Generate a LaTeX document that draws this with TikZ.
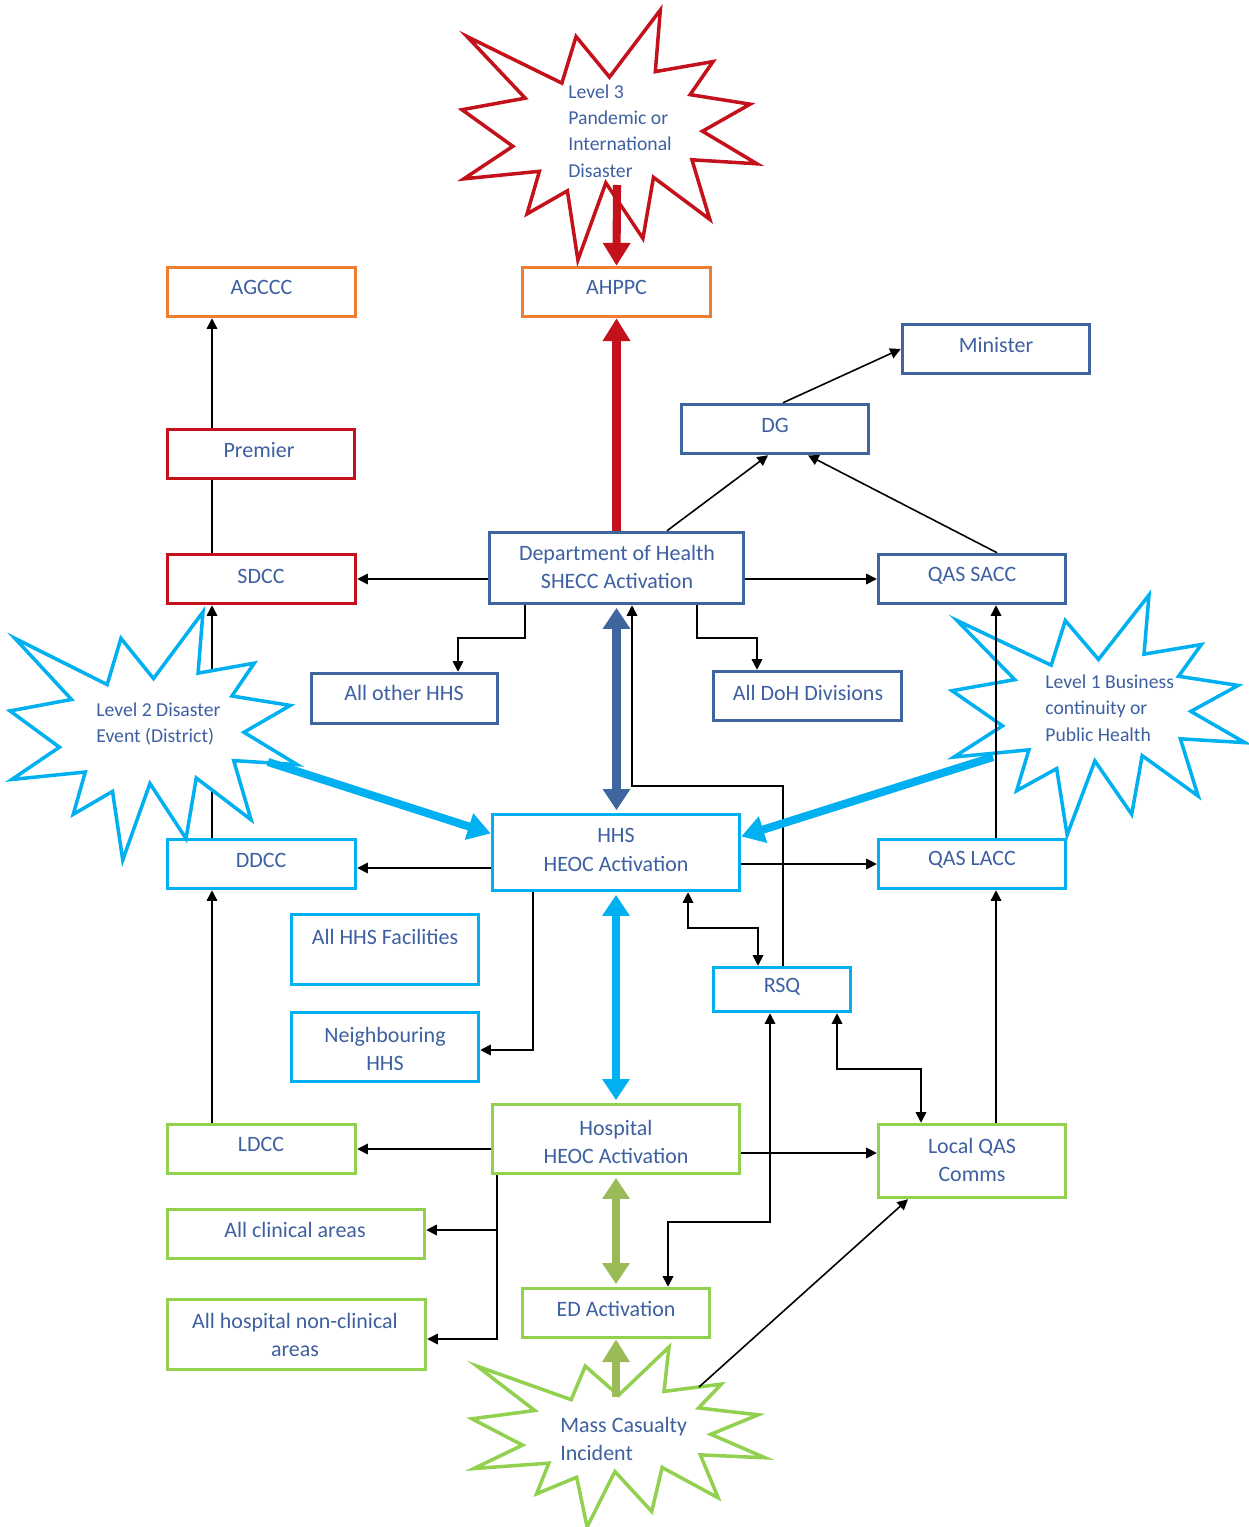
\documentclass[tikz,border=0pt]{standalone}
\usepackage{fontspec}
\setmainfont{Carlito}
\usetikzlibrary{arrows.meta,calc}
\definecolor{dblue}{RGB}{62,101,158}
\definecolor{lblue}{RGB}{0,176,240}
\definecolor{dred}{RGB}{196,18,28}
\definecolor{orng}{RGB}{237,125,49}
\definecolor{lgreen}{RGB}{146,208,80}
\definecolor{olive}{RGB}{155,187,89}
\definecolor{txtblue}{RGB}{62,96,160}
\newcommand\drawseal[5]{%
  \begin{scope}[shift={(#1,#2)}, xscale=#3/216, yscale=#4/216]
    \draw[line width=2pt, draw=#5, fill=white]
      (108,58) -- (145.22,0) -- (141.55,53.25) -- (183.80,44.57) -- (167.02,73.15)
      -- (210.97,81.37) -- (176.07,104.75) -- (216,132.90) -- (168.37,129.42)
      -- (181.45,180.95) -- (140.20,144.57) -- (132.47,197.37) -- (105.32,149.35)
      -- (84.85,216) -- (77.15,156.27) -- (47.62,176.17) -- (56.67,139.37)
      -- (1.35,145.87) -- (37.22,117.75) -- (0,86.15) -- (46.27,76.17)
      -- (3.70,22.95) -- (73.12,63.20) -- (83.52,22.95) -- cycle;
  \end{scope}}
\tikzset{
  box/.style={draw, line width=2pt, fill=white, inner sep=0pt},
  lbl/.style={text=txtblue, font=\fontsize{12.5}{16}\selectfont, align=center, inner sep=0pt},
  stxt/.style={text=txtblue, font=\fontsize{11.2}{15}\selectfont, align=left, inner sep=0pt, anchor=west},
  conn/.style={draw=black, line width=0.9pt, -{Triangle[length=6pt,width=6pt]}},
  biconn/.style={draw=black, line width=0.9pt, {Triangle[length=6pt,width=6pt]}-{Triangle[length=6pt,width=6pt]}},
  thinline/.style={draw=black, line width=0.9pt},
  fatarrow/.style={line width=4.6pt, -{Triangle[length=13pt,width=15pt]}},
  fatbi/.style={line width=4.6pt, {Triangle[length=12pt,width=15pt]}-{Triangle[length=12pt,width=15pt]}, shorten >=1.5pt, shorten <=1.5pt},
}
\begin{document}
\begin{tikzpicture}[x=0.02cm, y=-0.02cm]
\useasboundingbox[fill=white] (0,0) rectangle (1248,1527);

% lanes and bends
\coordinate (xL) at (212,0);
\coordinate (xR) at (996,0);

% Level 1 star (beneath the right column line)
\drawseal{952}{595}{293}{240}{lblue}

% boxes
\node[box, draw=orng, minimum width=3.76cm, minimum height=0.98cm] (agccc) at (261.5,292) {};
\node[box, draw=orng, minimum width=3.76cm, minimum height=0.98cm] (ahppc) at (616.5,292) {};
\node[box, draw=dred, minimum width=3.74cm, minimum height=0.98cm] (premier) at (261,454) {};
\node[box, draw=dred, minimum width=3.76cm, minimum height=0.98cm] (sdcc) at (261.5,579) {};
\node[box, draw=dblue, minimum width=3.74cm, minimum height=0.98cm] (minister) at (996,349) {};
\node[box, draw=dblue, minimum width=3.74cm, minimum height=0.98cm] (dg) at (775,429) {};
\node[box, draw=dblue, minimum width=5.08cm, minimum height=1.42cm] (doh) at (616.5,568) {};
\node[box, draw=dblue, minimum width=3.74cm, minimum height=0.98cm] (qassacc) at (972,579) {};
\node[box, draw=dblue, minimum width=3.72cm, minimum height=1.00cm] (allhhs) at (404.5,698.5) {};
\node[box, draw=dblue, minimum width=3.76cm, minimum height=0.98cm] (alldoh) at (807.5,696) {};
\node[box, draw=lblue, minimum width=4.94cm, minimum height=1.52cm] (hhs) at (616,852.5) {};
\node[box, draw=lblue, minimum width=3.76cm, minimum height=0.98cm] (ddcc) at (261.5,864) {};
\node[box, draw=lblue, minimum width=3.74cm, minimum height=0.98cm] (qaslacc) at (972,864) {};
\node[box, draw=lblue, minimum width=3.74cm, minimum height=1.40cm] (hhsfac) at (385,949.5) {};
\node[box, draw=lblue, minimum width=3.74cm, minimum height=1.38cm] (neigh) at (385,1047) {};
\node[box, draw=lblue, minimum width=2.74cm, minimum height=0.88cm] (rsq) at (782,989.5) {};
\node[box, draw=lgreen, minimum width=3.76cm, minimum height=0.98cm] (ldcc) at (261.5,1149) {};
\node[box, draw=lgreen, minimum width=4.94cm, minimum height=1.38cm] (hosp) at (616,1139) {};
\node[box, draw=lgreen, minimum width=3.74cm, minimum height=1.46cm] (localqas) at (972,1161) {};
\node[box, draw=lgreen, minimum width=5.14cm, minimum height=0.98cm] (clin) at (296,1234) {};
\node[box, draw=lgreen, minimum width=5.16cm, minimum height=1.40cm] (nonclin) at (296.5,1334.5) {};
\node[box, draw=lgreen, minimum width=3.74cm, minimum height=0.98cm] (ed) at (616,1313) {};

% box labels
\node[lbl] (agccc-t) at (261.5,287) {AGCCC};
\node[lbl] (ahppc-t) at (616.5,287) {AHPPC};
\node[lbl] (premier-t) at (259,450) {Premier};
\node[lbl] (sdcc-t) at (261,576) {SDCC};
\node[lbl] (minister-t) at (996,345) {Minister};
\node[lbl] (dg-t) at (775,425) {DG};
\node[lbl] (doh-t) at (617,567) {Department of Health\\SHECC Activation};
\node[lbl] (qassacc-t) at (972,576) {QAS SACC};
\node[lbl] (allhhs-t) at (404,693) {All other HHS};
\node[lbl] (alldoh-t) at (808,693) {All DoH Divisions};
\node[lbl] (hhs-t) at (616,850) {HHS\\HEOC Activation};
\node[lbl] (ddcc-t) at (261,860) {DDCC};
\node[lbl] (qaslacc-t) at (972,860) {QAS LACC};
\node[lbl] (hhsfac-t) at (385,937) {All HHS Facilities};
\node[lbl] (neigh-t) at (385,1049) {Neighbouring\\HHS};
\node[lbl] (rsq-t) at (782,987) {RSQ};
\node[lbl] (ldcc-t) at (261,1144) {LDCC};
\node[lbl] (hosp-t) at (616,1141.5) {Hospital\\HEOC Activation};
\node[lbl] (localqas-t) at (972,1160) {Local QAS\\Comms};
\node[lbl] (clin-t) at (295,1230) {All clinical areas};
\node[lbl] (nonclin-t) at (295,1335) {All hospital non-clinical\\areas};
\node[lbl] (ed-t) at (616,1309) {ED Activation};

% left column
\draw[conn] (premier.north -| xL) -- (agccc.south -| xL);
\draw[thinline] (sdcc.north -| xL) -- (premier.south -| xL);
\draw[conn] (ddcc.north -| xL) -- (sdcc.south -| xL);
\draw[conn] (ldcc.north -| xL) -- (ddcc.south -| xL);

% right column
\draw[conn] (qaslacc.north -| xR) -- (qassacc.south -| xR);
\draw[conn] (localqas.north -| xR) -- (qaslacc.south -| xR);

% Department of Health connectors
\draw[conn] (doh.west |- sdcc.east) -- (sdcc.east);
\draw[conn] (doh.east |- qassacc.west) -- (qassacc.west);
\coordinate (d1) at (525,638); \coordinate (d1t) at (458,0);
\draw[conn] (doh.south -| d1) -- (d1) -| (allhhs.north -| d1t);
\coordinate (d2) at (697,638); \coordinate (d2t) at (757,0);
\draw[conn] (doh.south -| d2) -- (d2) -| (alldoh.north -| d2t);
\coordinate (g1) at (667,0); \coordinate (g2) at (768,0);
\draw[conn] (doh.north -| g1) -- (dg.south -| g2);
\coordinate (g3) at (997,0); \coordinate (g4) at (808,0);
\draw[conn] (qassacc.north -| g3) -- (dg.south -| g4);
\coordinate (g5) at (783,0);
\draw[conn] (dg.north -| g5) -- (minister.west);

% RSQ to DoH
\coordinate (j1) at (783,786); \coordinate (j2) at (632,786);
\draw[conn] (rsq.north -| j1) -- (j1) -- (j2) -- (doh.south -| j2);

% HHS connectors
\coordinate (ya) at (0,868); \coordinate (yb) at (0,864);
\draw[conn] (hhs.west |- ya) -- (ddcc.east |- ya);
\draw[conn] (hhs.east |- yb) -- (qaslacc.west |- yb);
\coordinate (n1) at (533,1050);
\draw[conn] (hhs.south -| n1) -- (n1) -- (neigh.east |- n1);
\coordinate (r1) at (688,928); \coordinate (r2) at (758,928);
\draw[biconn] (hhs.south -| r1) -- (r1) -- (r2) -- (rsq.north -| r2);

% Hospital connectors
\draw[conn] (hosp.west |- ldcc.east) -- (ldcc.east);
\coordinate (yc) at (0,1153);
\draw[conn] (hosp.east |- yc) -- (localqas.west |- yc);
\coordinate (h1) at (497,1230); \coordinate (h2) at (497,1339);
\draw[conn] (hosp.south -| h2) -- (h2) -- (nonclin.east |- h2);
\draw[conn] (h1) -- (clin.east |- h1);

% RSQ lower connectors
\coordinate (e1) at (770,1222); \coordinate (e2) at (668,1222);
\draw[biconn] (rsq.south -| e1) -- (e1) -- (e2) -- (ed.north -| e2);
\coordinate (q1) at (837,1069); \coordinate (q2) at (921,1069);
\draw[biconn] (rsq.south -| q1) -- (q1) -- (q2) -- (localqas.north -| q2);

% stars drawn over lines
\drawseal{10}{612}{287}{248}{lblue}
\drawseal{462}{10}{295}{250}{dred}
\drawseal{472}{1347}{293}{180}{lgreen}

% Mass casualty to Local QAS
\coordinate (mc1) at (699,1387); \coordinate (q3) at (908,0);
\draw[conn] (mc1) -- (localqas.south -| q3);

% thick arrows
\coordinate (l3s) at (617,185);
\draw[fatarrow, dred] (l3s) -- (ahppc.north);
\draw[fatarrow, dred] (doh.north) -- (ahppc.south);
\draw[fatbi, dblue] (doh.south) -- (hhs.north -| doh.south);
\draw[fatbi, lblue] (hhs.south) -- (hosp.north);
\draw[fatbi, olive] (hosp.south) -- (ed.north);
\coordinate (mc2) at (616,1397);
\draw[fatarrow, olive] (mc2) -- (ed.south);
\coordinate (l2s) at (268,762);
\draw[fatarrow, lblue] (l2s) -- ($(hhs.west)+(0,-19)$);
\coordinate (l1s) at (993,757);
\draw[fatarrow, lblue] (l1s) -- ($(hhs.east)+(0,-16)$);

% star texts
\node[stxt] (l3-t) at (568,131) {Level 3\\Pandemic or\\International\\Disaster};
\node[stxt] (l2-t) at (96,724) {Level 2 Disaster\\Event (District)};
\node[stxt] (l1-t) at (1045,708) {Level 1 Business\\continuity or\\Public Health};
\node[stxt, font=\fontsize{12.5}{16}\selectfont] (mc-t) at (560,1439) {Mass Casualty\\Incident};
\end{tikzpicture}
\end{document}
